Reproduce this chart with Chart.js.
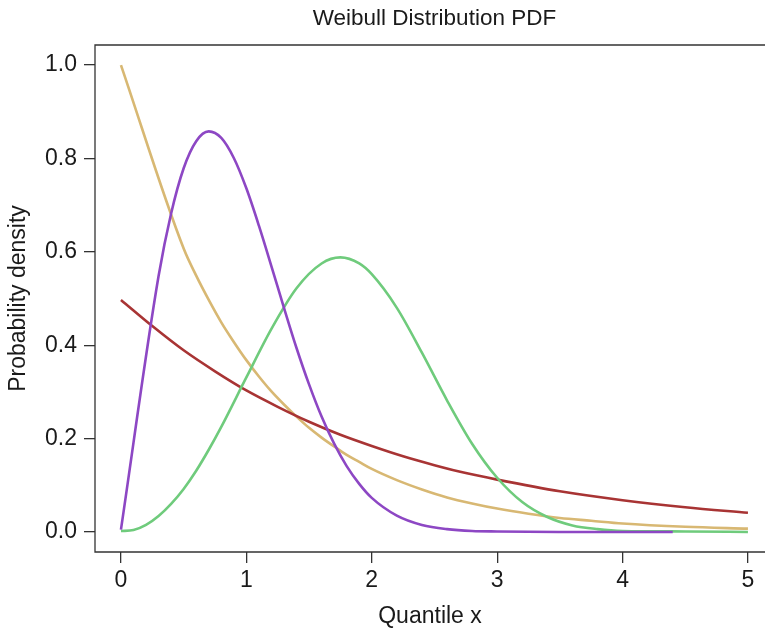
<!DOCTYPE html>
<html lang="en">
<head>
    <meta charset="UTF-8">
    <title>Weibull Distribution PDF</title>
    <script src="https://cdn.jsdelivr.net/npm/chart.js"></script>
    <style>
        html, body { margin: 0; padding: 0; background: #fff; overflow: hidden; }
    </style>
</head>
<body>
    <canvas id="myChart" width="765" height="630"></canvas>

    <script>
        // values
        const tanX = [0, 0.5, 0.6, 0.7, 0.8, 0.9, 1.0, 1.1, 1.2, 1.3, 1.4, 1.5, 1.6, 1.7, 1.8, 1.9, 2.0, 2.2, 2.4, 2.6, 2.8, 3.0, 3.25, 3.5, 3.75, 4.0, 4.5, 5.0];
        const tanY = [1.000, 0.607, 0.549, 0.497, 0.449, 0.407, 0.368, 0.333, 0.301, 0.273, 0.247, 0.223, 0.202, 0.183, 0.165, 0.150, 0.135, 0.111, 0.091, 0.074, 0.061, 0.050, 0.039, 0.030, 0.024, 0.018, 0.011, 0.007];

        const redX = [0, 0.25, 0.5, 0.75, 1.0, 1.25, 1.5, 1.75, 2.0, 2.25, 2.5, 2.75, 3.0, 3.5, 4.0, 4.5, 5.0];
        const redY = [0.497, 0.441, 0.389, 0.344, 0.303, 0.268, 0.236, 0.208, 0.184, 0.162, 0.143, 0.126, 0.112, 0.087, 0.068, 0.053, 0.041];

        const purpleX = [0, 0.3, 0.4, 0.5, 0.6, 0.7, 0.8, 0.9, 1.0, 1.1, 1.2, 1.3, 1.4, 1.5, 1.6, 1.7, 1.8, 1.9, 2.0, 2.2, 2.4, 2.6, 2.8, 3.0, 3.5, 4.0, 4.4];
        const purpleY = [0.005, 0.548, 0.682, 0.779, 0.837, 0.858, 0.844, 0.801, 0.736, 0.656, 0.569, 0.480, 0.394, 0.316, 0.247, 0.189, 0.141, 0.103, 0.073, 0.035, 0.015, 0.006, 0.002, 0.001, 0, 0, 0];

        const greenX = [0, 0.1, 0.2, 0.3, 0.4, 0.5, 0.6, 0.7, 0.8, 1.0, 1.2, 1.4, 1.6, 1.75, 1.9, 2.0, 2.2, 2.4, 2.6, 2.8, 3.0, 3.2, 3.4, 3.6, 3.8, 4.0, 4.5, 5.0];
        const greenY = [0.002, 0.004, 0.015, 0.034, 0.060, 0.092, 0.131, 0.176, 0.225, 0.331, 0.435, 0.522, 0.575, 0.588, 0.575, 0.552, 0.480, 0.384, 0.282, 0.189, 0.116, 0.064, 0.032, 0.014, 0.006, 0.002, 0.001, 0];

        const xTicks = [0, 1, 2, 3, 4, 5];
        const yTicks = [0, 0.2, 0.4, 0.6, 0.8, 1.0];

        const chartTitle = 'Weibull Distribution PDF';
        const xAxisLabel = 'Quantile x';
        const yAxisLabel = 'Probability density';

        const fontFamily = '"Liberation Sans", Arial, Helvetica, sans-serif';
        const inkColor = '#1a1a1a';

        function toPoints(xs, ys) {
            return xs.map((x, i) => ({ x: x, y: ys[i] }));
        }

        function series(xs, ys, color) {
            return {
                data: toPoints(xs, ys),
                borderColor: color,
                borderWidth: 2.6,
                showLine: true,
                pointRadius: 0,
                cubicInterpolationMode: 'monotone',
                fill: false
            };
        }

        // frame round the plot (the original's right side is cut off by the window) and the main title
        const frameAndTitle = {
            id: 'frameAndTitle',
            afterDraw(chart) {
                const { ctx, chartArea } = chart;
                const { left, right, top, bottom } = chartArea;
                ctx.save();
                ctx.strokeStyle = '#333';
                ctx.lineWidth = 1.3;
                ctx.beginPath();
                ctx.moveTo(right + 10, top);
                ctx.lineTo(left, top);
                ctx.lineTo(left, bottom);
                ctx.lineTo(right + 10, bottom);
                ctx.stroke();
                ctx.fillStyle = inkColor;
                ctx.font = '22.5px ' + fontFamily;
                ctx.textAlign = 'center';
                ctx.textBaseline = 'middle';
                // centred over the full plot range (-0.2 .. 5.2), as in the original
                ctx.fillText(chartTitle, chart.scales.x.getPixelForValue(2.5), 19);
                ctx.restore();
            }
        };

        const ctx = document.getElementById('myChart').getContext('2d');

        new Chart(ctx, {
            type: 'scatter',
            data: {
                datasets: [
                    series(purpleX, purpleY, '#8d47c4'),
                    series(greenX, greenY, '#6fcb7c'),
                    series(redX, redY, '#a83434'),
                    series(tanX, tanY, '#d8b873')
                ]
            },
            options: {
                responsive: false,
                animation: false,
                layout: { autoPadding: false, padding: { top: 45, left: 0, right: 0, bottom: 0 } },
                plugins: {
                    legend: { display: false },
                    tooltip: { enabled: false },
                    title: { display: false }
                },
                scales: {
                    x: {
                        type: 'linear',
                        min: -0.207,
                        max: 5.136,
                        afterBuildTicks: scale => { scale.ticks = xTicks.map(v => ({ value: v })); },
                        afterFit: scale => {
                            scale.height = 78;
                            scale.paddingLeft = 0;
                            scale.paddingRight = 0;
                        },
                        border: { display: false },
                        grid: { drawOnChartArea: false, drawTicks: true, tickLength: 11, color: '#333', lineWidth: 1.3 },
                        ticks: {
                            color: inkColor,
                            padding: 4,
                            maxRotation: 0,
                            font: { family: fontFamily, size: 23 },
                            callback: v => String(v)
                        },
                        title: {
                            display: true,
                            text: xAxisLabel,
                            color: inkColor,
                            padding: { top: 0, bottom: 0 },
                            font: { family: fontFamily, size: 23 }
                        }
                    },
                    y: {
                        type: 'linear',
                        min: -0.043,
                        max: 1.043,
                        afterBuildTicks: scale => { scale.ticks = yTicks.map(v => ({ value: v })); },
                        afterFit: scale => {
                            scale.width = 95;
                            scale.paddingTop = 0;
                            scale.paddingBottom = 0;
                        },
                        border: { display: false },
                        grid: { drawOnChartArea: false, drawTicks: true, tickLength: 11, color: '#333', lineWidth: 1.3 },
                        ticks: {
                            color: inkColor,
                            padding: 7,
                            font: { family: fontFamily, size: 23 },
                            callback: v => v.toFixed(1)
                        },
                        title: {
                            display: true,
                            text: yAxisLabel,
                            color: inkColor,
                            padding: { top: 5, bottom: 0 },
                            font: { family: fontFamily, size: 23 }
                        }
                    }
                }
            },
            plugins: [frameAndTitle]
        });
    </script>
</body>
</html>
